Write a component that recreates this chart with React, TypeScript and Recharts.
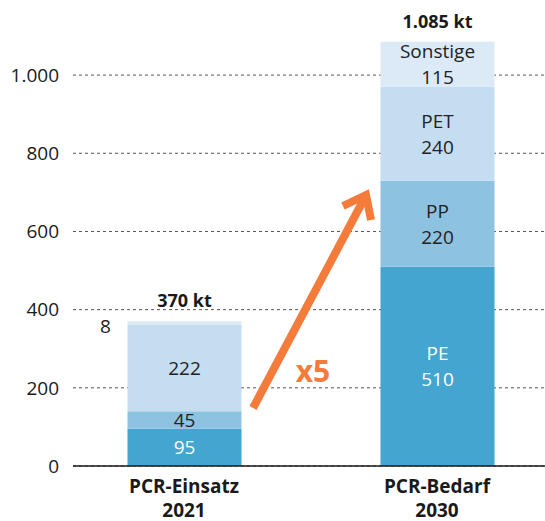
import React from "react";
import { BarChart, Bar, XAxis, YAxis, CartesianGrid, LabelList } from "recharts";

const categories = ["PCR-Einsatz", "PCR-Bedarf"];
const years = ["2021", "2030"];
const pe = [95, 510];
const pp = [45, 220];
const pet = [222, 240];
const sonstige = [8, 115];
const yTicks = [0, 200, 400, 600, 800, 1000];

const FONT = "'Open Sans', sans-serif";
const ORANGE = "#f47b3a";
const TOP = 36;

const fmt = (n: number) => String(n).replace(/\B(?=(\d{3})+(?!\d))/g, ".");

const data = categories.map((c, i) => ({
  name: c,
  year: years[i],
  PE: pe[i],
  PP: pp[i],
  PET: pet[i],
  Sonstige: sonstige[i],
  total: pe[i] + pp[i] + pet[i] + sonstige[i],
}));

const segmentLabel = (name: string, color: string) => (props: any) => {
  const { x, y, width, height, value, index } = props;
  const cx = Number(x) + Number(width) / 2;
  const cy = Number(y) + Number(height) / 2;
  const style = { fontFamily: FONT, fontSize: 19, fill: color };
  if (Number(height) < 16) {
    return (
      <text x={Number(x) - 22} y={cy + 10} textAnchor="middle" style={{ ...style, fill: "#222" }}>
        {value}
      </text>
    );
  }
  if (index === 1) {
    return (
      <g>
        <text x={cx} y={cy - 6} textAnchor="middle" style={style}>{name}</text>
        <text x={cx} y={cy + 20} textAnchor="middle" style={style}>{fmt(value)}</text>
      </g>
    );
  }
  return (
    <text x={cx} y={cy + 7} textAnchor="middle" style={style}>{fmt(value)}</text>
  );
};

const totalLabel = (props: any) => {
  const { x, y, width, value } = props;
  return (
    <text
      x={Number(x) + Number(width) / 2}
      y={Number(y) - 14}
      textAnchor="middle"
      style={{ fontFamily: FONT, fontSize: 18, fontWeight: 700, fill: "#1a1a1a" }}
    >
      {fmt(value)} kt
    </text>
  );
};

const CategoryTick = (props: any) => {
  const { x, y, payload, index } = props;
  const style = { fontFamily: FONT, fontSize: 19, fontWeight: 700, fill: "#1a1a1a" };
  return (
    <g>
      <text x={x} y={y + 25} textAnchor="middle" style={style}>{payload.value}</text>
      <text x={x} y={y + 49} textAnchor="middle" style={style}>{years[index]}</text>
    </g>
  );
};

// dashed grid, but no line on the plot's top border
const gridLine = (p: any) =>
  p.y1 <= TOP + 1 ? (
    <g key={p.key} />
  ) : (
    <line
      key={p.key}
      x1={p.x1}
      y1={p.y1}
      x2={p.x2}
      y2={p.y2}
      stroke="#555"
      strokeDasharray="3 3"
    />
  );

export default function App() {
  return (
    <div style={{ position: "absolute", left: 0, top: 0, width: 545, height: 521, fontFamily: FONT }}>
      <BarChart
        width={545}
        height={521}
        data={data}
        margin={{ top: TOP, right: 0, bottom: 0, left: 0 }}
        barSize={114}
      >
        <CartesianGrid vertical={false} horizontal={gridLine} />
        <XAxis
          dataKey="name"
          height={55}
          padding={{ left: -15.5, right: -18.5 }}
          tickLine={false}
          tickSize={0}
          axisLine={{ stroke: "#1a1a1a", strokeWidth: 1.5 }}
          tick={<CategoryTick />}
          interval={0}
        />
        <YAxis
          width={73}
          domain={[0, 1100]}
          ticks={yTicks}
          axisLine={false}
          tickLine={false}
          tickSize={0}
          tickMargin={14}
          tickFormatter={fmt}
          tick={{ fontFamily: FONT, fontSize: 19, fill: "#1a1a1a" }}
        />
        <Bar dataKey="PE" stackId="a" fill="#43a5d0" isAnimationActive={false}>
          <LabelList dataKey="PE" content={segmentLabel("PE", "#ffffff")} />
        </Bar>
        <Bar dataKey="PP" stackId="a" fill="#8dc2e0" isAnimationActive={false}>
          <LabelList dataKey="PP" content={segmentLabel("PP", "#222")} />
        </Bar>
        <Bar dataKey="PET" stackId="a" fill="#c4ddf0" isAnimationActive={false}>
          <LabelList dataKey="PET" content={segmentLabel("PET", "#222")} />
        </Bar>
        <Bar dataKey="Sonstige" stackId="a" fill="#dce9f6" isAnimationActive={false}>
          <LabelList dataKey="Sonstige" content={segmentLabel("Sonstige", "#222")} />
          <LabelList dataKey="total" content={totalLabel} />
        </Bar>
      </BarChart>
      <svg
        width={545}
        height={521}
        style={{ position: "absolute", left: 0, top: 0, pointerEvents: "none" }}
      >
        <line x1={253} y1={408} x2={364} y2={199} stroke={ORANGE} strokeWidth={8} />
        <polyline
          points="343,206 366,195 371,220"
          fill="none"
          stroke={ORANGE}
          strokeWidth={8}
          strokeLinejoin="miter"
        />
        <text
          x={313}
          y={382}
          textAnchor="middle"
          style={{ fontFamily: FONT, fontSize: 30, fontWeight: 700, fill: ORANGE }}
        >
          x5
        </text>
      </svg>
    </div>
  );
}
